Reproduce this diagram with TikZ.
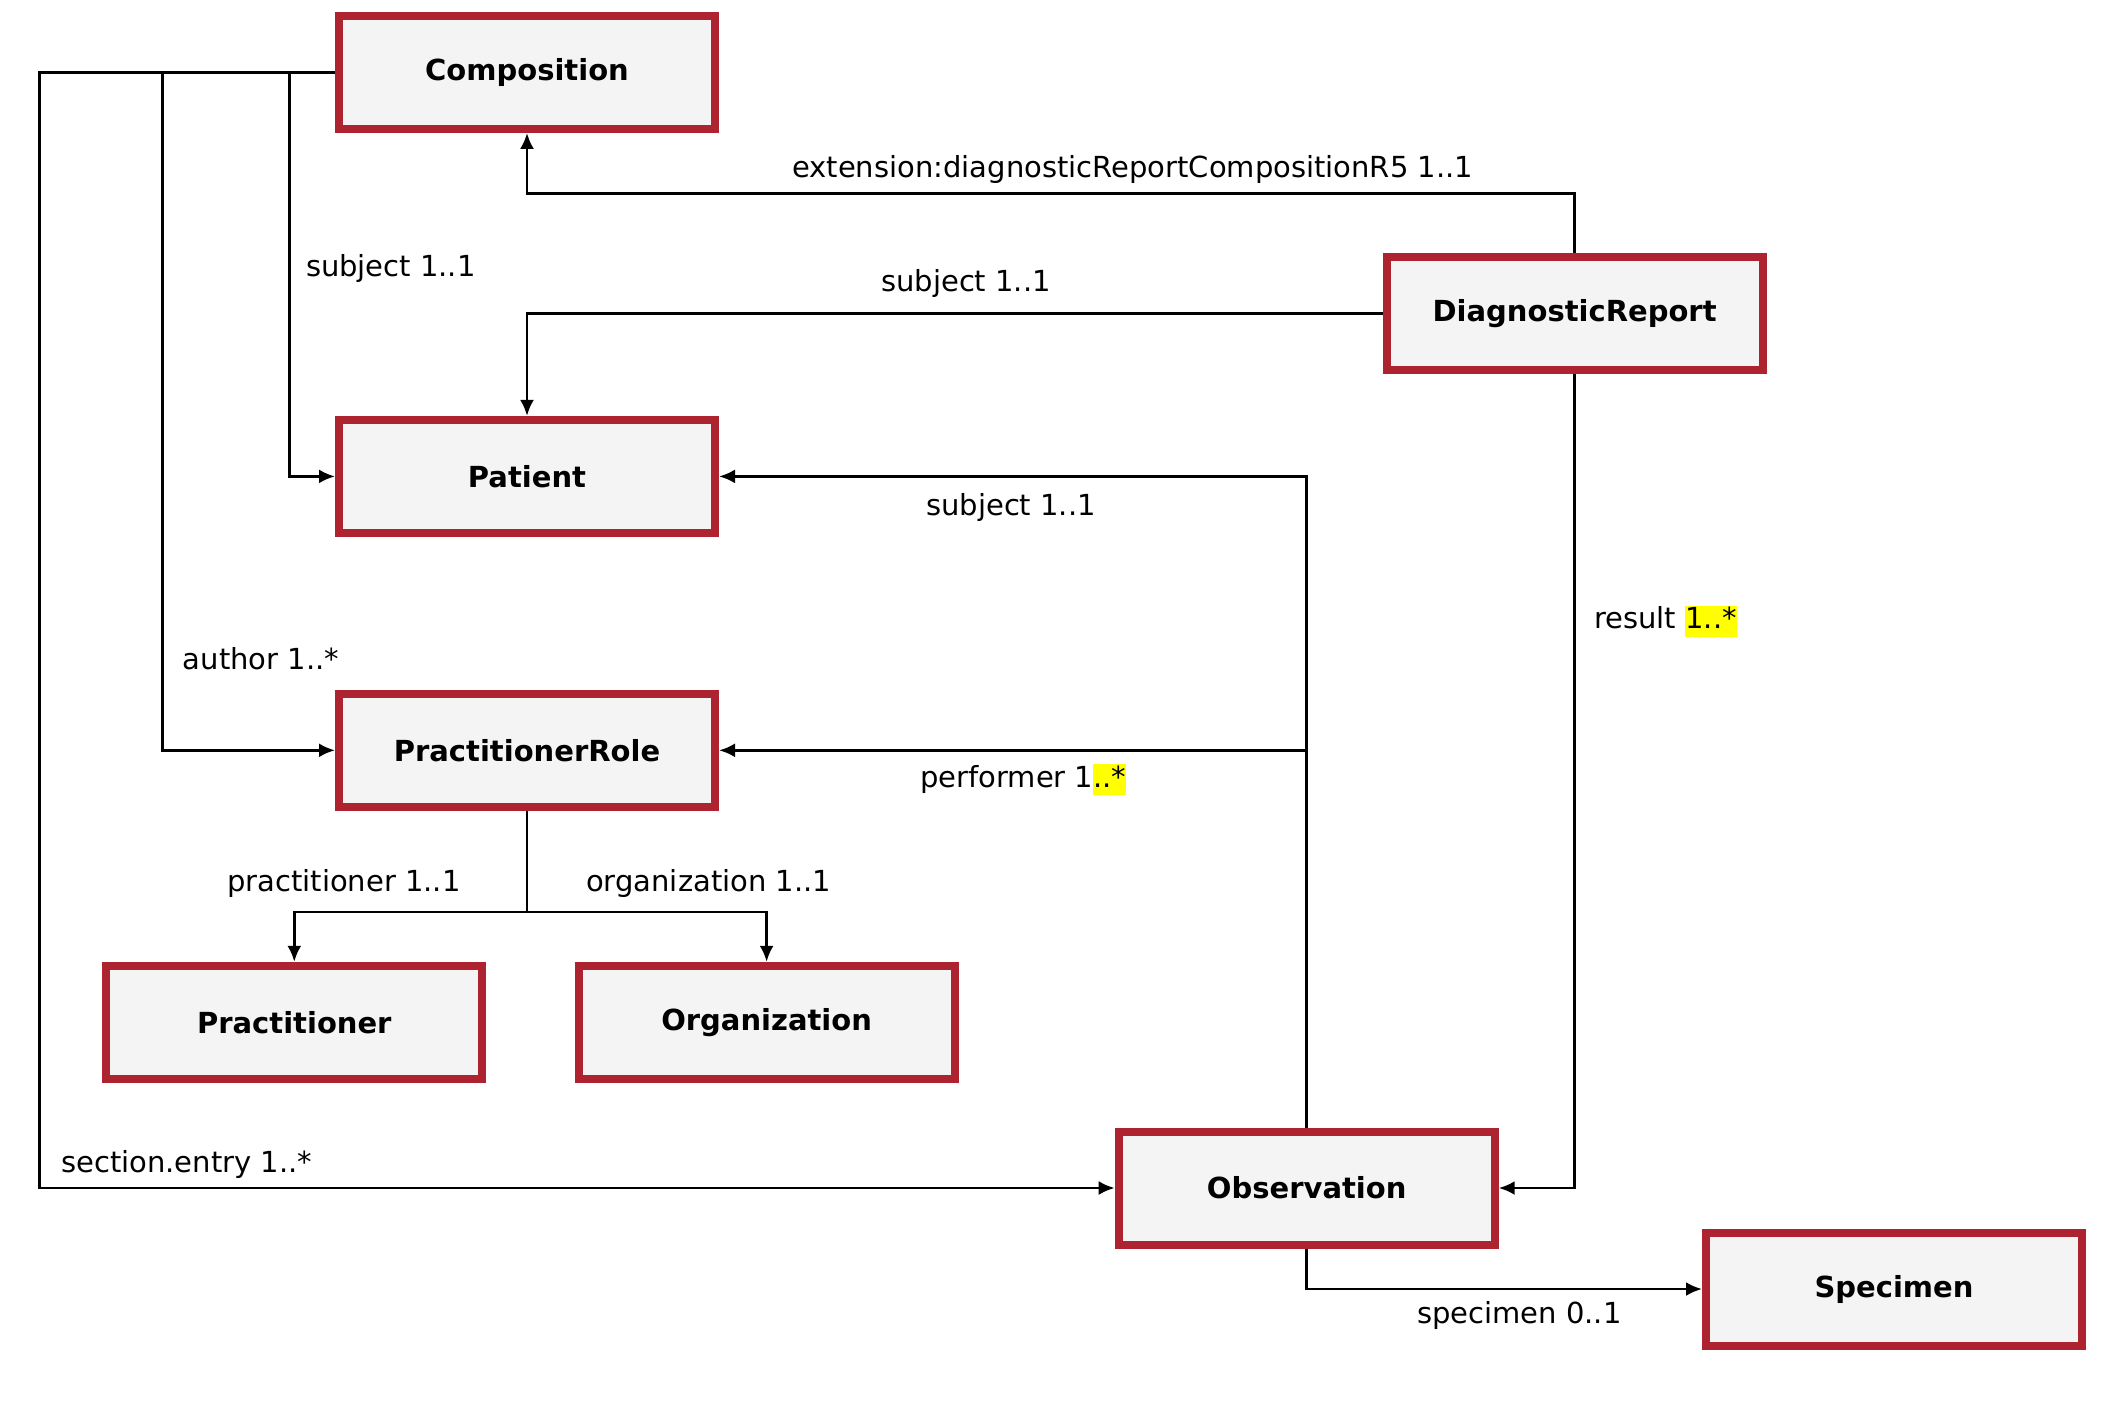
\documentclass[tikz,border=0pt]{standalone}
\usepackage{fontspec}
\setmainfont{DejaVu Sans}
\usetikzlibrary{arrows.meta}
\definecolor{boxred}{RGB}{174,35,48}
\definecolor{boxfill}{RGB}{244,244,244}
\definecolor{hly}{RGB}{255,255,0}
\newcommand\hlt[1]{{\setlength{\fboxsep}{0pt}\colorbox{hly}{\rule[-8pt]{0pt}{31pt}#1}}}
\begin{document}
\begin{tikzpicture}[x=1pt,y=-1pt,
 entity/.style={draw=boxred, fill=boxfill, line width=8pt, minimum width=376pt, minimum height=113pt, inner sep=0pt, font=\fontsize{29}{34}\selectfont\bfseries},
 conn/.style={line width=2.8pt, -{Latex[length=16pt,width=14pt]}},
 plainline/.style={line width=2.8pt},
 lbl/.style={font=\fontsize{29}{34}\selectfont, inner sep=0pt, anchor=west}]
\useasboundingbox[fill=white] (0,0) rectangle (2122,1401);

\node[entity] (comp) at (527,72.4) {Composition};
\node[entity] (dr) at (1574.6,313.3) {DiagnosticReport};
\node[entity] (pat) at (527,476.4) {Patient};
\node[entity] (prole) at (527,750.3) {PractitionerRole};
\node[entity] (prac) at (294.3,1022.3) {Practitioner};
\node[entity] (org) at (766.6,1022.3) {Organization};
\node[entity] (obs) at (1306.7,1188) {Observation};
\node[entity] (spec) at (1894,1289) {Specimen};

\coordinate (sj) at (289.6,72.4);
\coordinate (au) at (162.4,72.4);
\coordinate (se) at (39.2,72.4);
\coordinate (ext) at (1574.6,193.5);
\coordinate (pf) at (1306.7,750.3);
\coordinate (fork) at (527,912);

\draw[conn] (comp.west) -- (sj) |- (pat.west);
\draw[conn] (comp.west) -- (au) |- (prole.west);
\draw[conn] (comp.west) -- (se) |- (obs.west);
\draw[conn] (dr.north) -- (ext) -| (comp.south);
\draw[conn] (dr.west) -| (pat.north);
\draw[conn] (dr.south) |- (obs.east);
\draw[conn] (obs.north) |- (pat.east);
\draw[conn] (pf) -- (prole.east);
\draw[plainline] (prole.south) -- (fork);
\draw[conn] (fork) -| (prac.north);
\draw[conn] (fork) -| (org.north);
\draw[conn] (obs.south) |- (spec.west);

\node[lbl] (l1) at (305.8,268) {subject 1..1};
\node[lbl] (l2) at (792,169) {extension:diagnosticReportCompositionR5 1..1};
\node[lbl] (l3) at (881,283) {subject 1..1};
\node[lbl] (l4) at (926,507.5) {subject 1..1};
\node[lbl] (l5) at (182.7,659) {author 1..*};
\node[lbl] (l6) at (1594,621) {result \hlt{1..*}};
\node[lbl] (l7) at (920,779.5) {performer 1\hlt{..*}};
\node[lbl] (l8) at (227,883.7) {practitioner 1..1};
\node[lbl] (l9) at (586,883.7) {organization 1..1};
\node[lbl] (l10) at (61,1164) {section.entry 1..*};
\node[lbl] (l11) at (1417,1315.4) {specimen 0..1};
\end{tikzpicture}
\end{document}
